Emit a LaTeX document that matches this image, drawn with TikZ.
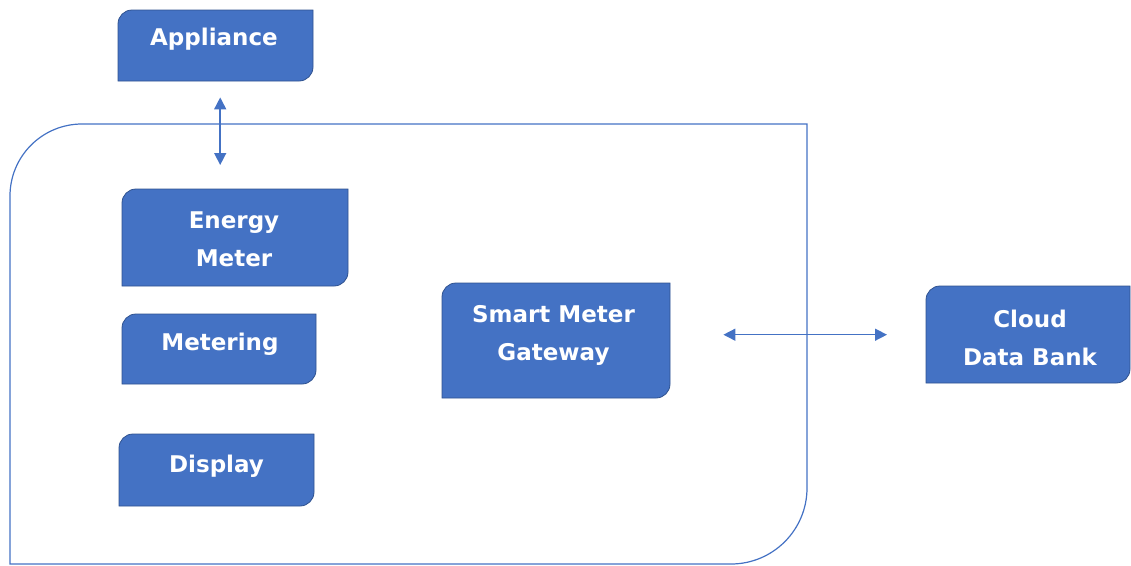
\documentclass[tikz,border=0pt]{standalone}
\usepackage{fontspec}
\setmainfont{DejaVu Sans}
\usetikzlibrary{arrows.meta}
\definecolor{boxblue}{HTML}{4472C4}
\definecolor{boxedge}{HTML}{2F528F}
\definecolor{linblue}{HTML}{4472C4}
\newcommand\rr{14}
% #1 name, #2 x1, #3 y1, #4 x2, #5 y2, #6 text x, #7 text y, #8 text
\newcommand\obox[8]{%
  \path[fill=boxblue,draw=boxedge,line width=0.8pt]
    (#2,#5) -- (#2,#3+\rr) arc[start angle=180,end angle=270,radius=\rr]
    -- (#4,#3) -- (#4,#5-\rr) arc[start angle=0,end angle=90,radius=\rr] -- cycle;
  \node[rectangle,inner sep=0pt,minimum width={#4-#2},minimum height={#5-#3},anchor=north west] (#1) at (#2,#3) {};
  \node[boxtext] (#1t) at (#6,#7) {#8};
}
\begin{document}
\begin{tikzpicture}[x=1pt,y=-1pt,
  boxtext/.style={text=white,font=\fontsize{23}{38}\selectfont\bfseries,align=center,inner sep=0pt},
  arr/.style={draw=linblue,line width=1.5pt,{Triangle[length=12pt,width=12pt]}-{Triangle[length=12pt,width=12pt]}},
  container/.style={draw=linblue,line width=1.2pt}]
\useasboundingbox (0,0) rectangle (1131,565);
% container
\path[container] (10,564) -- (10,124+72) arc[start angle=180,end angle=270,radius=72]
  -- (807,124) -- (807,564-76) arc[start angle=0,end angle=90,radius=76] -- cycle;
\obox{appl}{118}{10}{313}{81}{214}{39}{Appliance}
\obox{em}{122}{189}{348}{286}{234}{239}{Energy\\Meter}
\obox{met}{122}{314}{316}{384}{220}{344}{Metering}
\obox{disp}{119}{434}{314}{506}{216.5}{466}{Display}
\obox{smg}{442}{283}{670}{398}{553.5}{335}{Smart Meter\\Gateway}
\obox{cloud}{926}{286}{1130}{383}{1030}{338}{Cloud\\Data Bank}
\draw[arr] ([xshift=4.5pt,yshift=-16pt]appl.south) -- ([xshift=-15pt,yshift=24pt]em.north);
\draw[arr] ([xshift=53pt]smg.east |- cloud.west) -- ([xshift=-39pt]cloud.west);
\end{tikzpicture}
\end{document}
